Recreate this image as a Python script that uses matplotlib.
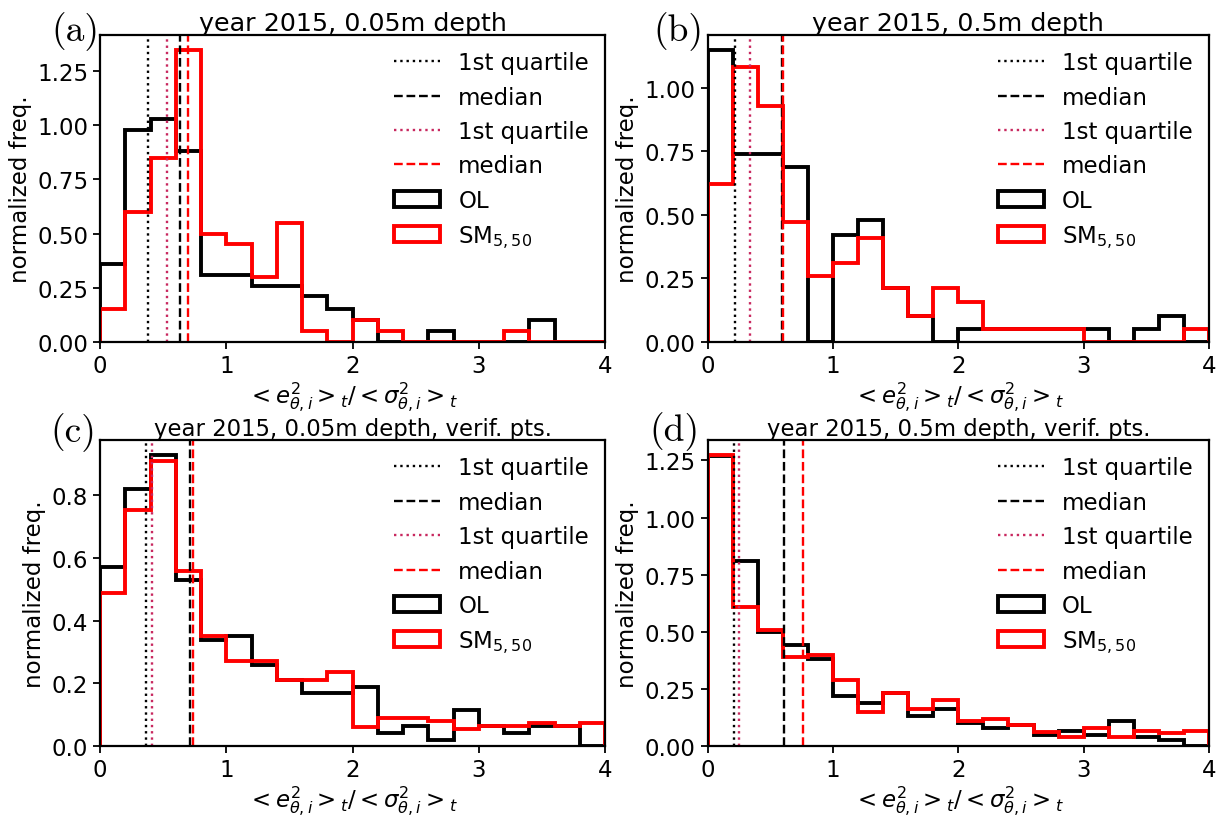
import numpy as np
import matplotlib
matplotlib.use("Agg")
import matplotlib.pyplot as plt
from matplotlib.patches import Rectangle

plt.rcParams['font.size'] = 16.5

# bin edges, 20 bins of 0.2 between 0 and 4
edges = np.linspace(0, 4, 21)

# (a) year 2015, 0.05m depth
ol_a = [0.36, 0.98, 1.03, 0.88, 0.31, 0.31, 0.26, 0.26, 0.21, 0.15,
        0.10, 0.0, 0.0, 0.05, 0.0, 0.0, 0.0, 0.10, 0.0, 0.0]
sm_a = [0.15, 0.60, 0.85, 1.35, 0.50, 0.45, 0.30, 0.55, 0.05, 0.0,
        0.10, 0.05, 0.0, 0.0, 0.0, 0.0, 0.05, 0.0, 0.0, 0.0]
q_a = [0.38, 0.63, 0.53, 0.70]  # OL q1, OL median, SM q1, SM median

# (b) year 2015, 0.5m depth
ol_b = [1.15, 0.74, 0.74, 0.69, 0.0, 0.42, 0.48, 0.21, 0.10, 0.0,
        0.05, 0.05, 0.05, 0.05, 0.05, 0.05, 0.0, 0.05, 0.10, 0.0]
sm_b = [0.62, 1.08, 0.93, 0.47, 0.26, 0.31, 0.41, 0.21, 0.10, 0.21,
        0.155, 0.05, 0.05, 0.05, 0.05, 0.0, 0.0, 0.0, 0.0, 0.05]
q_b = [0.22, 0.59, 0.34, 0.60]

# (c) year 2015, 0.05m depth, verif. pts.
ol_c = [0.57, 0.82, 0.93, 0.53, 0.34, 0.35, 0.26, 0.21, 0.17, 0.17,
        0.19, 0.04, 0.065, 0.02, 0.115, 0.065, 0.04, 0.065, 0.065, 0.0]
sm_c = [0.49, 0.755, 0.91, 0.56, 0.35, 0.27, 0.27, 0.21, 0.21, 0.235,
        0.06, 0.09, 0.09, 0.08, 0.055, 0.065, 0.065, 0.075, 0.065, 0.075]
q_c = [0.366, 0.713, 0.41, 0.735]

# (d) year 2015, 0.5m depth, verif. pts.
ol_d = [1.27, 0.81, 0.50, 0.44, 0.38, 0.22, 0.19, 0.23, 0.13, 0.16,
        0.10, 0.08, 0.09, 0.05, 0.065, 0.05, 0.11, 0.04, 0.025, 0.0]
sm_d = [1.275, 0.61, 0.51, 0.39, 0.40, 0.29, 0.15, 0.23, 0.16, 0.20,
        0.11, 0.12, 0.09, 0.06, 0.04, 0.08, 0.04, 0.065, 0.055, 0.065]
q_d = [0.207, 0.61, 0.254, 0.758]

titles = ["year 2015, 0.05m depth", "year 2015, 0.5m depth",
          "year 2015, 0.05m depth, verif. pts.", "year 2015, 0.5m depth, verif. pts."]
title_sizes = [18.3, 18.3, 16.4, 16.4]
letters = ["(a)", "(b)", "(c)", "(d)"]

RED_DOT = '#c8285f'

fig = plt.figure(figsize=(12.2, 8.2), dpi=100)

pos = [[0.082, 0.582, 0.414, 0.374],
       [0.580, 0.582, 0.411, 0.374],
       [0.082, 0.089, 0.414, 0.373],
       [0.580, 0.089, 0.411, 0.373]]
letter_pos = [(0.062, 0.962), (0.556, 0.962), (0.060, 0.472), (0.553, 0.474)]

data = [(ol_a, sm_a, q_a), (ol_b, sm_b, q_b), (ol_c, sm_c, q_c), (ol_d, sm_d, q_d)]

for i, (ol, sm, q) in enumerate(data):
    ax = fig.add_axes(pos[i])
    l1 = ax.axvline(q[0], color='k', ls=':', lw=1.7)
    l2 = ax.axvline(q[1], color='k', ls='--', lw=1.7)
    l3 = ax.axvline(q[2], color=RED_DOT, ls=':', lw=1.7)
    l4 = ax.axvline(q[3], color='r', ls='--', lw=1.7)
    ax.stairs(ol, edges, color='k', lw=2.8)
    ax.stairs(sm, edges, color='r', lw=2.8)
    h1 = Rectangle((0, 0), 1, 1, fill=False, edgecolor='k', lw=2.8)
    h2 = Rectangle((0, 0), 1, 1, fill=False, edgecolor='r', lw=2.8)
    ax.set_xlim(0, 4)
    ax.set_xticks([0, 1, 2, 3, 4])
    if i == 2:
        ax.set_yticks([0.0, 0.2, 0.4, 0.6, 0.8])
        ax.set_yticklabels(["0.0", "0.2", "0.4", "0.6", "0.8"])
    else:
        ax.set_yticks([0.0, 0.25, 0.5, 0.75, 1.0, 1.25])
        ax.set_yticklabels(["0.00", "0.25", "0.50", "0.75", "1.00", "1.25"])
    ax.set_ylim(0, max(max(ol), max(sm)) * 1.05)
    for s in ax.spines.values():
        s.set_linewidth(1.6)
    ax.tick_params(width=1.3, length=5)
    ax.set_title(titles[i], pad=4, fontsize=title_sizes[i])
    ax.set_ylabel("normalized freq.")
    ax.set_xlabel(r"$<e^2_{\theta,i}>_t/<\sigma^2_{\theta,i}>_t$", labelpad=2)
    ax.legend([l1, l2, l3, l4, h1, h2],
              ["1st quartile", "median", "1st quartile", "median", "OL", r"SM$_{5,50}$"],
              loc='upper right', frameon=False, borderaxespad=0.3)
    fig.text(letter_pos[i][0], letter_pos[i][1], letters[i], family='cmr10',
             fontsize=27, ha='center', va='center')

plt.savefig("out.png", dpi=100)
